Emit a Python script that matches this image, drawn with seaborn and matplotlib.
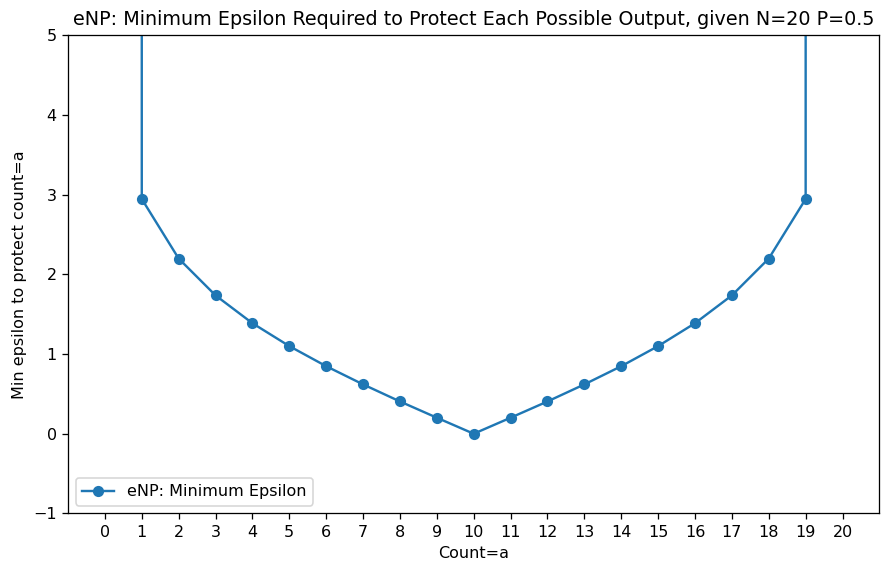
import matplotlib
matplotlib.use("Agg")
import matplotlib.pyplot as plt
import seaborn as sns
import pandas as pd

# Possible outputs a = 0..20 for N=20, P=0.5
counts = list(range(0, 21))
# minimum epsilon needed to protect each count; the endpoints are unbounded,
# represented by a very large finite value so the line runs off the top
min_eps = [1e4, 2.944, 2.197, 1.735, 1.386, 1.099, 0.847, 0.619, 0.405, 0.201,
           0.0, 0.201, 0.405, 0.619, 0.847, 1.099, 1.386, 1.735, 2.197, 2.944, 1e4]

df = pd.DataFrame({"Count=a": counts, "eps": min_eps})

DPI = 115
fig = plt.figure(figsize=(881 / DPI, 562 / DPI), dpi=DPI)
ax = fig.add_axes([0.0772, 0.0863, 0.9210, 0.8514])

sns.lineplot(data=df, x="Count=a", y="eps", marker="o", markersize=7,
             markeredgewidth=0, color="#1f77b4", label="eNP: Minimum Epsilon", ax=ax)

ax.set_ylim(-1, 5)
ax.set_xlim(-1, 21)
ax.set_xticks(counts)
ax.set_xlabel("Count=a")
ax.set_ylabel("Min epsilon to protect count=a")
ax.set_title("eNP: Minimum Epsilon Required to Protect Each Possible Output, given N=20 P=0.5")
ax.legend(loc="lower left")

fig.savefig("out.png", dpi=DPI)
